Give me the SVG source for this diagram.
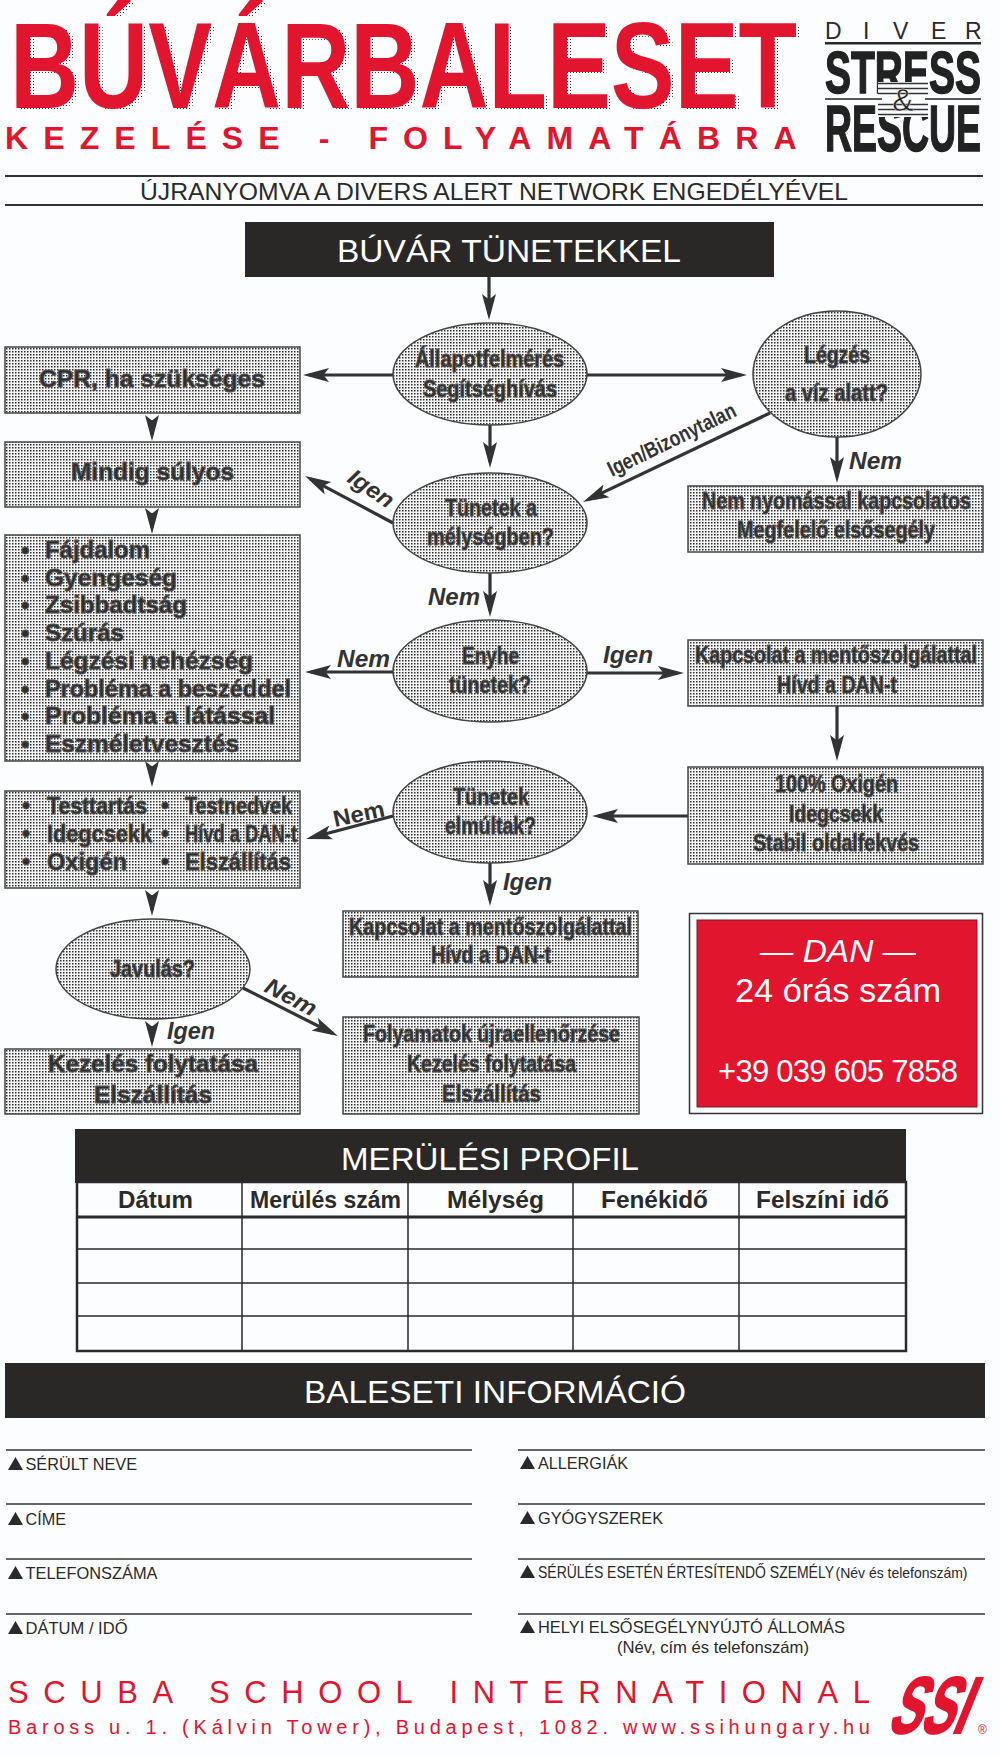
<svg xmlns="http://www.w3.org/2000/svg" width="1000" height="1756" viewBox="0 0 1000 1756">
<style>
text{font-family:"Liberation Sans",Arial,sans-serif;}
.bx{fill:url(#st);stroke:#444;stroke-width:1.5;}
.t{font-weight:bold;font-size:23px;fill:#2e2e2e;stroke:#555;stroke-width:.9;}
.l{font-weight:bold;font-style:italic;font-size:23px;fill:#333;}
.c{fill:none;stroke:#333;stroke-width:3.2;marker-end:url(#ah);}
.bar{fill:#2a2727;}
.w{fill:#fff;font-size:32px;}
.f{font-size:16.5px;fill:#2a2a2a;}
.rl{stroke:#333;stroke-width:1.6;}
.tl{stroke:#2a2a2a;stroke-width:1.5;}
.h{font-weight:bold;font-size:24px;fill:#2a2a2a;}
.r{fill:#e2152f;}
</style>
<defs>
<pattern id="st" width="3" height="3" patternUnits="userSpaceOnUse"><rect width="3" height="3" fill="#f6f6f6"/><rect width="1.5" height="1.5" fill="#2e2e2e"/></pattern>
<marker id="ah" markerUnits="userSpaceOnUse" markerWidth="28" markerHeight="16" refX="20" refY="7.500" orient="auto"><path d="M0,0.500 L26,7.500 L0,14.500 L5.500,7.500 Z" fill="#333"/></marker>
<path id="tri" d="M0,0 L7.500,-13 L15,0 Z" fill="#2a2a2a"/>
<filter id="ds" filterUnits="userSpaceOnUse" x="0" y="0" width="1000" height="130" color-interpolation-filters="sRGB">
<feFlood flood-color="#333" x="0" y="0" width="1" height="1" result="a"/>
<feMerge x="0" y="0" width="3" height="3" result="t"><feMergeNode in="a"/></feMerge>
<feTile in="t" x="0" y="0" width="1000" height="130" result="dots"/>
<feOffset in="SourceAlpha" dx="4" dy="2" result="o"/>
<feComposite in="dots" in2="o" operator="in" result="s"/>
<feMerge x="0" y="0" width="1000" height="130"><feMergeNode in="s"/><feMergeNode in="SourceGraphic"/></feMerge>
</filter>
</defs>
<rect width="1000" height="1756" fill="#fbfdff"/>

<g id="title">
<text x="10" y="108" class="r" font-size="123" font-weight="bold" textLength="787" lengthAdjust="spacingAndGlyphs" filter="url(#ds)">BÚVÁRBALESET</text>
<text x="5" y="149" class="r" font-size="32" font-weight="bold" style="letter-spacing:15.100px">KEZELÉSE - FOLYAMATÁBRA</text>
</g>
<g id="logo">
<text x="825 863 893 931 965" y="39" font-size="23" fill="#2a2a2a">DIVER</text>
<rect x="825" y="42" width="156" height="2.500" fill="#2a2a2a"/>
<text x="825" y="93" font-size="60" font-weight="bold" fill="#222" stroke="#222" stroke-width="1.500" textLength="156" lengthAdjust="spacingAndGlyphs">STRESS</text>
<text x="825" y="151" font-size="64" font-weight="bold" fill="#222" stroke="#222" stroke-width="1.500" textLength="156" lengthAdjust="spacingAndGlyphs">RESCUE</text>
<rect x="878" y="82" width="50" height="35" fill="#fbfdff"/>
<path d="M825,99H882M925,99H981" stroke="#222" stroke-width="1.500"/>
<path d="M878,83.500H928M878,88.500H928M878,93.500H928M878,104.500H928M878,109.500H928M878,114.500H928" stroke="#333" stroke-width="1.500"/>
<text x="903" y="111" font-size="32" text-anchor="middle" fill="#222" stroke="#fbfdff" stroke-width=".4">&amp;</text>
</g>
<g id="subtitle">
<rect x="5" y="175" width="978" height="2" fill="#333"/>
<rect x="5" y="204" width="978" height="2" fill="#333"/>
<text x="140" y="200" font-size="24" fill="#2a2a2a" textLength="708" lengthAdjust="spacingAndGlyphs">ÚJRANYOMVA A DIVERS ALERT NETWORK ENGEDÉLYÉVEL</text>
</g>

<g id="connectors">
<path class="c" d="M489,277V314"/>
<path class="c" d="M393,375H309"/>
<path class="c" d="M587,375H741"/>
<path class="c" d="M490,425V462"/>
<path class="c" d="M393,523L310.300,478.800"/>
<path class="c" d="M770,413L588.400,499.400"/>
<path class="c" d="M837,437V477"/>
<path class="c" d="M490,573V611"/>
<path class="c" d="M393,672H311"/>
<path class="c" d="M587,673H678"/>
<path class="c" d="M837,706V755"/>
<path class="c" d="M688,816H598"/>
<path class="c" d="M393,816L311.800,837.500"/>
<path class="c" d="M490,863V900"/>
<path class="c" d="M243,988L332.600,1033.300"/>
<path class="c" d="M152,420V435"/>
<path class="c" d="M152,513V528"/>
<path class="c" d="M152,766V781"/>
<path class="c" d="M152,895V910"/>
<path class="c" d="M152,1026V1041"/>
</g>

<g id="n-top"><rect class="bar" x="245" y="222" width="529" height="55"/><text class="w" x="337" y="262" textLength="344" lengthAdjust="spacingAndGlyphs">BÚVÁR TÜNETEKKEL</text></g>

<g id="n-cpr"><rect class="bx" x="5" y="347" width="295" height="66"/><text class="t" x="39" y="387" textLength="226" lengthAdjust="spacingAndGlyphs">CPR, ha szükséges</text></g>
<g id="n-mindig"><rect class="bx" x="5" y="442" width="295" height="65"/><text class="t" x="71" y="480" textLength="163" lengthAdjust="spacingAndGlyphs">Mindig súlyos</text></g>
<g id="n-list"><rect class="bx" x="5" y="535" width="295" height="226"/>
<g class="t" style="font-size:24px">
<text x="21" y="558">•</text><text x="45" y="558" textLength="105" lengthAdjust="spacingAndGlyphs">Fájdalom</text>
<text x="21" y="586">•</text><text x="45" y="586" textLength="132" lengthAdjust="spacingAndGlyphs">Gyengeség</text>
<text x="21" y="613">•</text><text x="45" y="613" textLength="142" lengthAdjust="spacingAndGlyphs">Zsibbadtság</text>
<text x="21" y="641">•</text><text x="45" y="641" textLength="79" lengthAdjust="spacingAndGlyphs">Szúrás</text>
<text x="21" y="669">•</text><text x="45" y="669" textLength="208" lengthAdjust="spacingAndGlyphs">Légzési nehézség</text>
<text x="21" y="697">•</text><text x="45" y="697" textLength="246" lengthAdjust="spacingAndGlyphs">Probléma a beszéddel</text>
<text x="21" y="724">•</text><text x="45" y="724" textLength="230" lengthAdjust="spacingAndGlyphs">Probléma a látással</text>
<text x="21" y="752">•</text><text x="45" y="752" textLength="194" lengthAdjust="spacingAndGlyphs">Eszméletvesztés</text>
</g></g>
<g id="n-test"><rect class="bx" x="5" y="791" width="295" height="97"/>
<g class="t">
<text x="22" y="814">•</text><text x="47" y="814" textLength="100" lengthAdjust="spacingAndGlyphs">Testtartás</text>
<text x="161" y="814">•</text><text x="185" y="814" textLength="107" lengthAdjust="spacingAndGlyphs">Testnedvek</text>
<text x="22" y="842">•</text><text x="47" y="842" textLength="105" lengthAdjust="spacingAndGlyphs">Idegcsekk</text>
<text x="161" y="842">•</text><text x="185" y="842" textLength="112" lengthAdjust="spacingAndGlyphs">Hívd a DAN-t</text>
<text x="22" y="870">•</text><text x="47" y="870" textLength="80" lengthAdjust="spacingAndGlyphs">Oxigén</text>
<text x="161" y="870">•</text><text x="185" y="870" textLength="106" lengthAdjust="spacingAndGlyphs">Elszállítás</text>
</g></g>
<g id="n-javulas"><ellipse class="bx" cx="153" cy="969" rx="97" ry="50"/><text class="t" x="110" y="977" textLength="85" lengthAdjust="spacingAndGlyphs">Javulás?</text></g>
<g id="n-kezeles"><rect class="bx" x="5" y="1049" width="295" height="65"/><text class="t" x="48" y="1072" textLength="210" lengthAdjust="spacingAndGlyphs">Kezelés folytatása</text><text class="t" x="94" y="1103" textLength="118" lengthAdjust="spacingAndGlyphs">Elszállítás</text></g>

<g id="n-allapot"><ellipse class="bx" cx="490" cy="374" rx="97" ry="51"/><text class="t" x="415" y="367" textLength="149" lengthAdjust="spacingAndGlyphs">Állapotfelmérés</text><text class="t" x="423" y="397" textLength="134" lengthAdjust="spacingAndGlyphs">Segítséghívás</text></g>
<g id="n-legzes"><ellipse class="bx" cx="837" cy="374" rx="84" ry="63"/><text class="t" x="804" y="363" textLength="66" lengthAdjust="spacingAndGlyphs">Légzés</text><text class="t" x="785" y="401" textLength="103" lengthAdjust="spacingAndGlyphs">a víz alatt?</text></g>
<g id="n-melyseg"><ellipse class="bx" cx="490" cy="523" rx="97" ry="50"/><text class="t" x="445" y="516" textLength="92" lengthAdjust="spacingAndGlyphs">Tünetek a</text><text class="t" x="427" y="545" textLength="127" lengthAdjust="spacingAndGlyphs">mélységben?</text></g>
<g id="n-nemny"><rect class="bx" x="688" y="486" width="295" height="66"/><text class="t" x="702" y="509" textLength="269" lengthAdjust="spacingAndGlyphs">Nem nyomással kapcsolatos</text><text class="t" x="737" y="538" textLength="198" lengthAdjust="spacingAndGlyphs">Megfelelő elsősegély</text></g>
<g id="n-enyhe"><ellipse class="bx" cx="490" cy="671" rx="97" ry="51"/><text class="t" x="462" y="664" textLength="57" lengthAdjust="spacingAndGlyphs">Enyhe</text><text class="t" x="449" y="693" textLength="82" lengthAdjust="spacingAndGlyphs">tünetek?</text></g>
<g id="n-kapcs1"><rect class="bx" x="688" y="640" width="295" height="66"/><text class="t" x="695" y="663" textLength="282" lengthAdjust="spacingAndGlyphs">Kapcsolat a mentőszolgálattal</text><text class="t" x="777" y="693" textLength="120" lengthAdjust="spacingAndGlyphs">Hívd a DAN-t</text></g>
<g id="n-oxigen"><rect class="bx" x="688" y="767" width="295" height="97"/><text class="t" x="775" y="792" textLength="123" lengthAdjust="spacingAndGlyphs">100% Oxigén</text><text class="t" x="789" y="822" textLength="94" lengthAdjust="spacingAndGlyphs">Idegcsekk</text><text class="t" x="753" y="851" textLength="166" lengthAdjust="spacingAndGlyphs">Stabil oldalfekvés</text></g>
<g id="n-elmultak"><ellipse class="bx" cx="490" cy="812" rx="97" ry="51"/><text class="t" x="453" y="805" textLength="76" lengthAdjust="spacingAndGlyphs">Tünetek</text><text class="t" x="445" y="834" textLength="91" lengthAdjust="spacingAndGlyphs">elmúltak?</text></g>
<g id="n-kapcs2"><rect class="bx" x="343" y="911" width="295" height="66"/><text class="t" x="349" y="935" textLength="283" lengthAdjust="spacingAndGlyphs">Kapcsolat a mentőszolgálattal</text><text class="t" x="431" y="963" textLength="120" lengthAdjust="spacingAndGlyphs">Hívd a DAN-t</text></g>
<g id="n-folyamatok"><rect class="bx" x="343" y="1017" width="296" height="97"/><text class="t" x="363" y="1042" textLength="257" lengthAdjust="spacingAndGlyphs">Folyamatok újraellenőrzése</text><text class="t" x="407" y="1072" textLength="169" lengthAdjust="spacingAndGlyphs">Kezelés folytatása</text><text class="t" x="442" y="1102" textLength="99" lengthAdjust="spacingAndGlyphs">Elszállítás</text></g>

<g id="labels">
<text class="l" x="849" y="469" textLength="53" lengthAdjust="spacingAndGlyphs">Nem</text>
<text class="l" x="428" y="605" textLength="52" lengthAdjust="spacingAndGlyphs">Nem</text>
<text class="l" x="337" y="667" textLength="53" lengthAdjust="spacingAndGlyphs">Nem</text>
<text class="l" x="603" y="663" textLength="50" lengthAdjust="spacingAndGlyphs">Igen</text>
<text class="l" x="503" y="890" textLength="49" lengthAdjust="spacingAndGlyphs">Igen</text>
<text class="l" x="167" y="1039" textLength="48" lengthAdjust="spacingAndGlyphs">Igen</text>
<text class="l" transform="translate(346,481) rotate(34)" textLength="50" lengthAdjust="spacingAndGlyphs">Igen</text>
<text transform="translate(612,477) rotate(-26)" font-size="22" font-weight="bold" fill="#333" textLength="140" lengthAdjust="spacingAndGlyphs">Igen/Bizonytalan</text>
<text transform="translate(335,827) rotate(-12)" font-size="23" font-weight="bold" fill="#333" textLength="52" lengthAdjust="spacingAndGlyphs">Nem</text>
<text class="l" transform="translate(263,991) rotate(28)" textLength="55" lengthAdjust="spacingAndGlyphs">Nem</text>
</g>

<g id="n-dan">
<rect x="689.500" y="913.500" width="293" height="200" fill="#fbfdff" stroke="#333" stroke-width="1.500"/>
<rect x="697" y="920" width="280" height="187" fill="#e2152f" stroke="#7a1a22" stroke-width="1"/>
<text x="760" y="962" font-size="32" font-style="italic" fill="#fff" textLength="156" lengthAdjust="spacingAndGlyphs">— DAN —</text>
<text x="735" y="1002" font-size="33" fill="#fff" textLength="206" lengthAdjust="spacingAndGlyphs">24 órás szám</text>
<text x="718" y="1082" font-size="31" fill="#fff" textLength="240" lengthAdjust="spacing">+39 039 605 7858</text>
</g>

<g id="table">
<rect class="bar" x="75" y="1129" width="831" height="54"/>
<text class="w" x="341" y="1170" textLength="298" lengthAdjust="spacingAndGlyphs">MERÜLÉSI PROFIL</text>
<rect x="77" y="1182" width="829" height="169" fill="none" stroke="#2a2a2a" stroke-width="2.500"/>
<path class="tl" d="M242,1182V1351M408,1182V1351M573,1182V1351M739,1182V1351M77,1249H906M77,1283H906M77,1316H906"/>
<path d="M77,1217H906" stroke="#2a2a2a" stroke-width="3"/>
<text class="h" x="118" y="1208" textLength="75" lengthAdjust="spacingAndGlyphs">Dátum</text>
<text class="h" x="250" y="1208" textLength="151" lengthAdjust="spacingAndGlyphs">Merülés szám</text>
<text class="h" x="447" y="1208" textLength="97" lengthAdjust="spacingAndGlyphs">Mélység</text>
<text class="h" x="601" y="1208" textLength="107" lengthAdjust="spacingAndGlyphs">Fenékidő</text>
<text class="h" x="756" y="1208" textLength="133" lengthAdjust="spacingAndGlyphs">Felszíni idő</text>
</g>

<g id="info-header"><rect class="bar" x="5" y="1363" width="980" height="55"/><text class="w" x="304" y="1403" textLength="382" lengthAdjust="spacingAndGlyphs">BALESETI INFORMÁCIÓ</text></g>

<g id="form">
<path class="rl" d="M6,1450H472M6,1504H472M6,1559H472M6,1614H472M518,1450H985M518,1504H985M518,1559H985M518,1614H985"/>
<use href="#tri" x="8" y="1470"/><text class="f" x="25.500" y="1470" textLength="111.500" lengthAdjust="spacingAndGlyphs">SÉRÜLT NEVE</text>
<use href="#tri" x="8" y="1525"/><text class="f" x="25.500" y="1525" textLength="40.500" lengthAdjust="spacingAndGlyphs">CÍME</text>
<use href="#tri" x="8" y="1579"/><text class="f" x="25.500" y="1579" textLength="132" lengthAdjust="spacingAndGlyphs">TELEFONSZÁMA</text>
<use href="#tri" x="8" y="1634"/><text class="f" x="25.500" y="1634" textLength="102" lengthAdjust="spacingAndGlyphs">DÁTUM / IDŐ</text>
<use href="#tri" x="520" y="1469"/><text class="f" x="538" y="1469" textLength="90" lengthAdjust="spacingAndGlyphs">ALLERGIÁK</text>
<use href="#tri" x="520" y="1524"/><text class="f" x="538" y="1524" textLength="125" lengthAdjust="spacingAndGlyphs">GYÓGYSZEREK</text>
<use href="#tri" x="520" y="1578"/><text class="f" x="538" y="1578" textLength="296" lengthAdjust="spacingAndGlyphs">SÉRÜLÉS ESETÉN ÉRTESÍTENDŐ SZEMÉLY</text>
<text x="835.500" y="1578" font-size="14.500" fill="#2a2a2a" textLength="132" lengthAdjust="spacingAndGlyphs">(Név és telefonszám)</text>
<use href="#tri" x="520" y="1633"/><text class="f" x="538" y="1633" textLength="307" lengthAdjust="spacingAndGlyphs">HELYI ELSŐSEGÉLYNYÚJTÓ ÁLLOMÁS</text>
<text class="f" x="617" y="1653" textLength="192" lengthAdjust="spacingAndGlyphs">(Név, cím és telefonszám)</text>
</g>

<g id="footer">
<text class="r" x="8" y="1703" font-size="31" textLength="862" lengthAdjust="spacing">SCUBA SCHOOL INTERNATIONAL</text>
<text class="r" x="8" y="1734" font-size="20" textLength="862" lengthAdjust="spacing">Baross u. 1. (Kálvin Tower), Budapest, 1082. www.ssihungary.hu</text>
<text class="r" transform="translate(886,1733) skewX(-22)" font-size="80" font-weight="bold" stroke="#e2152f" stroke-width="2" textLength="78" lengthAdjust="spacingAndGlyphs">SSI</text>
<text class="r" x="978" y="1734" font-size="12">®</text>
</g>
</svg>
